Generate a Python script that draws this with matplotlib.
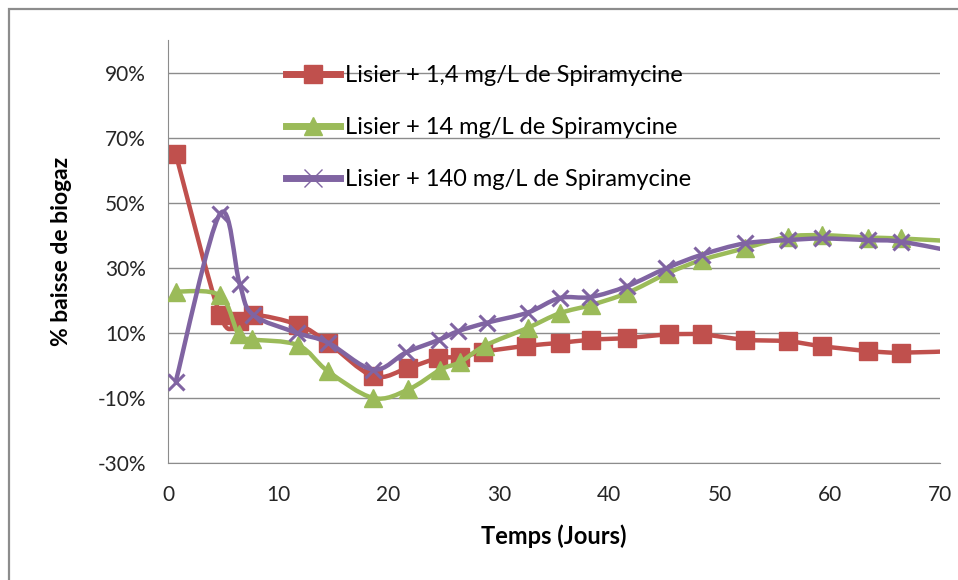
import numpy as np
import matplotlib
matplotlib.use("Agg")
import matplotlib.pyplot as plt
import matplotlib.ticker as ticker
from matplotlib.path import Path
from matplotlib.patches import PathPatch, Rectangle
from matplotlib.lines import Line2D

plt.rcParams['font.family'] = ['Lato', 'DejaVu Sans']

# values (x in days, y in % of biogas decrease)
jours_rouge = [0.7, 4.7, 6.4, 7.7, 11.8, 14.5, 18.6, 21.8, 24.5, 26.5, 28.6, 32.5,
               35.5, 38.4, 41.6, 45.4, 48.4, 52.3, 56.2, 59.3, 63.5, 66.5, 72]
baisse_rouge = [65, 15.6, 13.5, 15.6, 12.5, 7, -3.3, -0.7, 2.2, 2.6, 4.2, 6,
                6.9, 7.9, 8.4, 9.5, 9.5, 7.9, 7.4, 5.9, 4.4, 3.9, 4.5]

jours_vert = [0.7, 4.7, 6.4, 7.6, 11.8, 14.5, 18.6, 21.8, 24.7, 26.5, 28.7, 32.6,
              35.5, 38.4, 41.6, 45.3, 48.4, 52.3, 56.2, 59.3, 63.5, 66.5, 72]
baisse_vert = [22.7, 21.5, 9.5, 8, 6.2, -1.8, -10, -7.4, -1.3, 1, 6, 11.5,
               16, 18.6, 22.2, 28.3, 32.4, 36, 39.5, 40, 39.3, 39, 38]

jours_violet = [0.7, 4.7, 6.5, 7.7, 11.7, 14.5, 18.6, 21.6, 24.6, 26.3, 28.9, 32.6,
                35.5, 38.3, 41.6, 45.2, 48.4, 52.3, 56.2, 59.3, 63.5, 66.5, 72]
baisse_violet = [-5, 46.5, 25, 15.6, 10, 7, -1.3, 4, 7.9, 10.5, 13.1, 16.2,
                 20.7, 21, 24.3, 29.9, 34, 37.5, 38.5, 39, 38.5, 38, 34.5]

labels = ['Lisier + 1,4 mg/L de Spiramycine',
          'Lisier + 14 mg/L de Spiramycine',
          'Lisier + 140 mg/L de Spiramycine']
couleurs = ['#C0504D', '#9BBB59', '#8064A2']
y_ticks = [-30, -10, 10, 30, 50, 70, 90]
x_ticks = [0, 10, 20, 30, 40, 50, 60, 70]


def smooth_path(x, y):
    # excel-like smoothed line (catmull-rom -> cubic bezier)
    pts = np.column_stack([x, y]).astype(float)
    verts = [pts[0]]
    codes = [Path.MOVETO]
    for i in range(len(pts) - 1):
        p0 = pts[i - 1] if i > 0 else pts[i]
        p1 = pts[i]
        p2 = pts[i + 1]
        p3 = pts[i + 2] if i + 2 < len(pts) else pts[i + 1]
        verts += [p1 + (p2 - p0) / 6, p2 - (p3 - p1) / 6, p2]
        codes += [Path.CURVE4] * 3
    return Path(verts, codes)


fig = plt.figure(figsize=(9.58, 5.8), dpi=100)
fig.patches.append(Rectangle((9 / 958, -0.1), 1.2, 1.1 - 9 / 580, transform=fig.transFigure,
                             fill=False, edgecolor='#8c8c8c', lw=1.6))
ax = fig.add_axes([168 / 958, 1 - 463 / 580, (940 - 168) / 958, (463 - 40) / 580])

series = [(jours_rouge, baisse_rouge, 's', 13, 1),
          (jours_vert, baisse_vert, '^', 13, 1),
          (jours_violet, baisse_violet, 'x', 12, 2.2)]
handles = []
for k, (xs, ys, mk, ms, mew) in enumerate(series):
    c = couleurs[k]
    ax.add_patch(PathPatch(smooth_path(xs, ys), facecolor='none', edgecolor=c, lw=3.2,
                           capstyle='round', joinstyle='round', zorder=2 + k))
    ax.plot(xs, ys, linestyle='none', marker=mk, ms=ms, mew=mew, color=c, zorder=2.5 + k)
    handles.append(Line2D([], [], color=c, lw=5, marker=mk, ms=ms if mk != 'x' else 13,
                          mew=mew if mk != 'x' else 1))

ax.set_xlim(0, 70)
ax.set_ylim(-30, 100)
ax.set_xticks(x_ticks)
ax.set_yticks(y_ticks)
ax.yaxis.set_major_formatter(ticker.FuncFormatter(lambda v, p: '%d%%' % v))
ax.grid(axis='y', color='#8c8c8c', lw=1)
ax.set_axisbelow(True)
for s in ['top', 'right']:
    ax.spines[s].set_visible(False)
ax.spines['left'].set_color('#8c8c8c')
ax.spines['bottom'].set_color('#8c8c8c')
ax.tick_params(length=0, labelsize=15, colors='#262626')
ax.tick_params(axis='y', pad=16)
ax.tick_params(axis='x', pad=16)

ax.set_xlabel('Temps (Jours)', fontsize=17, fontweight='bold', labelpad=14)
ax.set_ylabel('% baisse de biogaz', fontsize=16.5, fontweight='bold', labelpad=18)

ax.legend(handles, labels, loc='upper left', bbox_to_anchor=(0.125, 0.99), frameon=False,
          fontsize=17, handlelength=2.3, handletextpad=0.2, labelspacing=1.3)

fig.savefig('out.png', dpi=100)
